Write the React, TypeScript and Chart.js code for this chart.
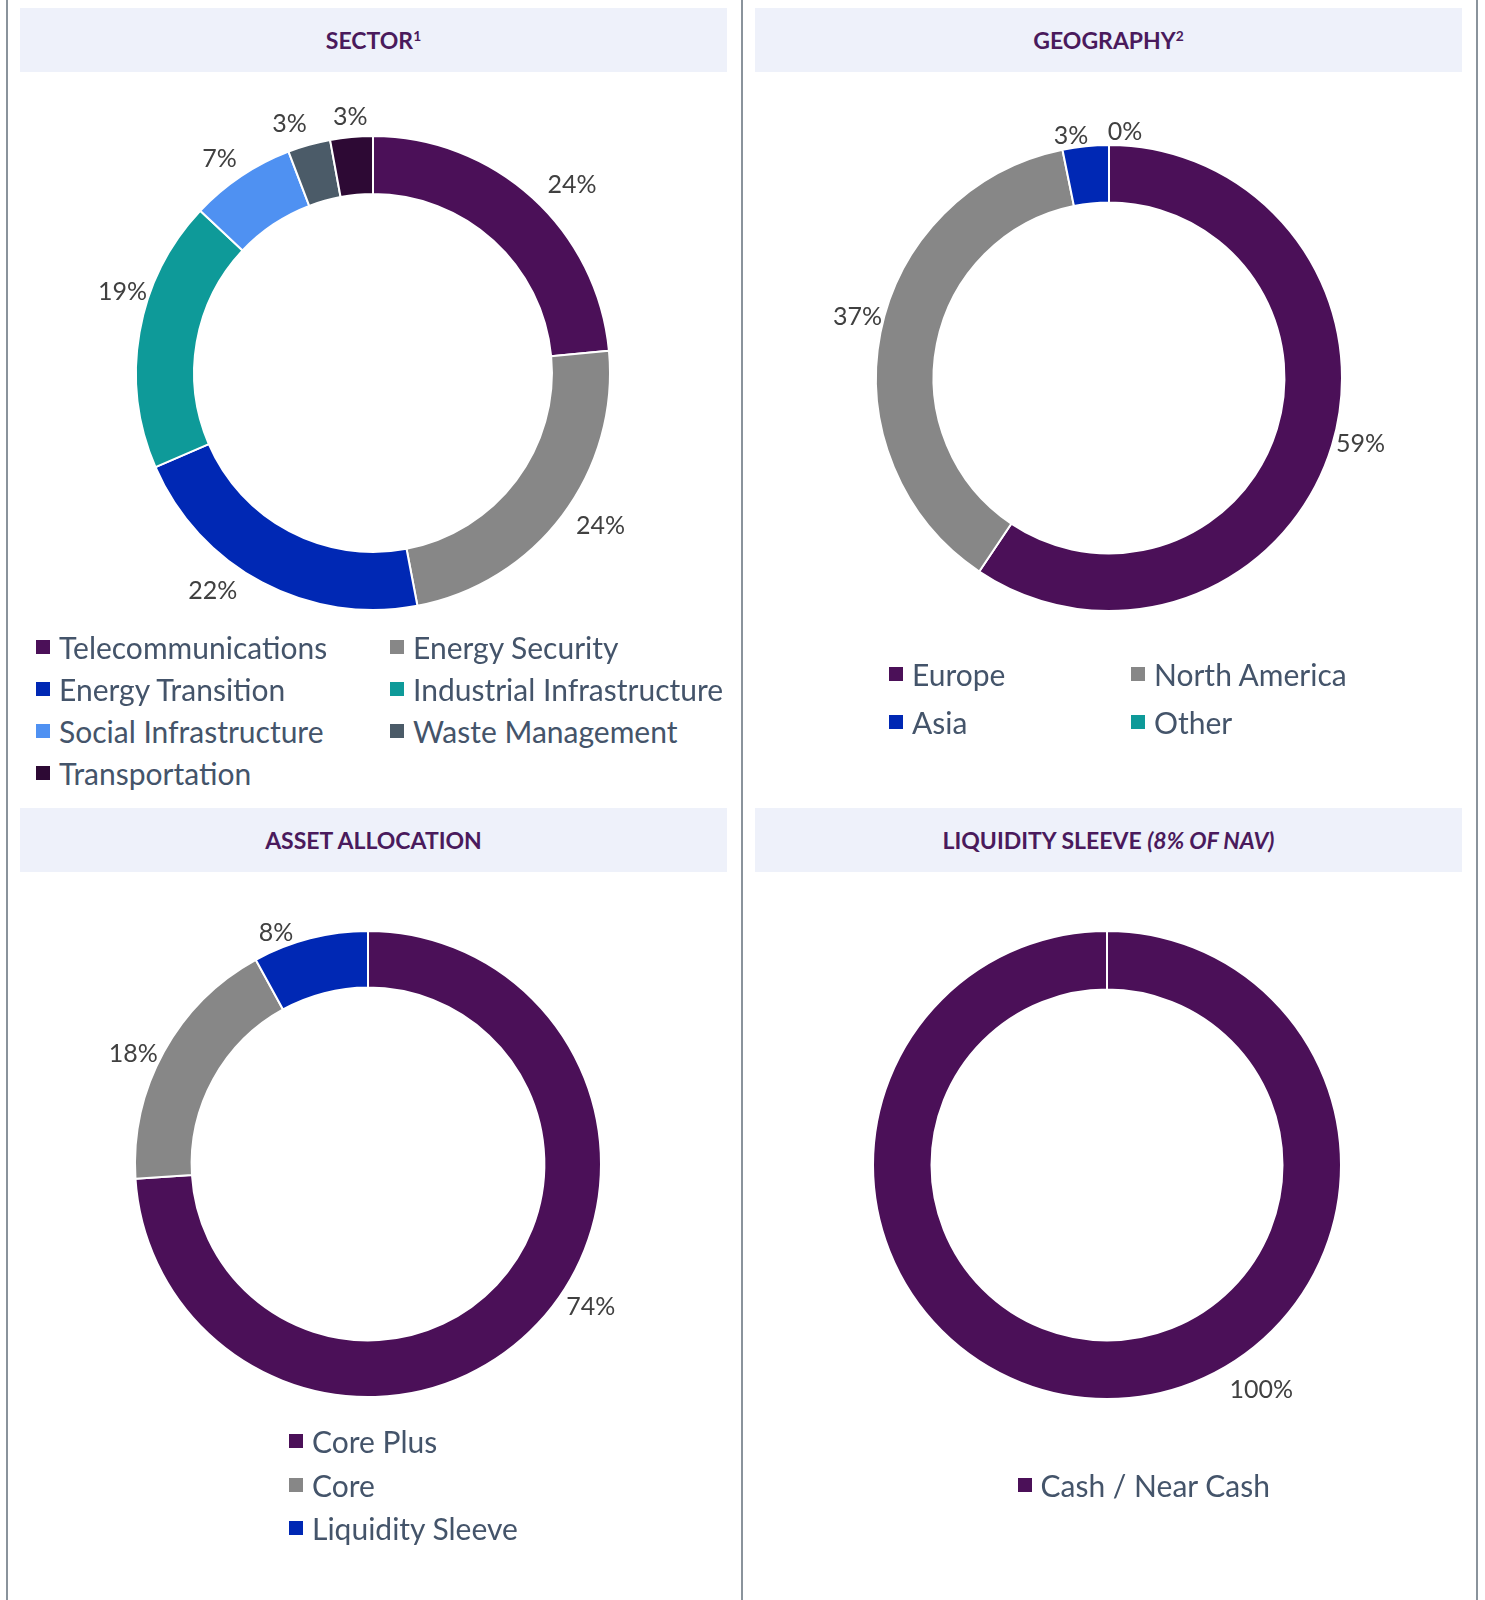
import { useEffect, useRef } from "react";
import { Chart, registerables } from "chart.js";

Chart.register(...registerables);

// ---------- DATA ----------
const sectorLabels = [
  "Telecommunications",
  "Energy Security",
  "Energy Transition",
  "Industrial Infrastructure",
  "Social Infrastructure",
  "Waste Management",
  "Transportation",
];
const sectorValues = [23.5, 23.5, 21.5, 18.5, 7.2, 2.9, 2.9];
const sectorColors = ["#4b1058", "#878787", "#0028b4", "#0e9a99", "#4f91f2", "#4b5b68", "#2d0934"];

const geoLabels = ["Europe", "North America", "Asia", "Other"];
const geoValues = [59.4, 37.4, 3.2, 0];
const geoColors = ["#4b1058", "#878787", "#0028b4", "#0e9a99"];

const assetLabels = ["Core Plus", "Core", "Liquidity Sleeve"];
const assetValues = [74, 18, 8];
const assetColors = ["#4b1058", "#878787", "#0028b4"];

const liqLabels = ["Cash / Near Cash"];
const liqValues = [100];
const liqColors = ["#4b1058"];

// ---------- STYLE ----------
const FONT = "Lato, 'Open Sans', sans-serif";
const TITLE_COLOR = "#4a1a5c";
const LEGEND_COLOR = "#44546a";
const LABEL_COLOR = "#404040";
const HEADER_BG = "#eef1fa";
const RULE_COLOR = "#8a939c";

// Percentage labels drawn outside the ring, at each slice's mid angle
// (with a small manual angular / radial nudge, like hand-placed data labels).
const outsideLabels = {
  id: "outsideLabels",
  afterDatasetsDraw(chart: any, _args: any, opts: any) {
    const { ctx } = chart;
    const meta = chart.getDatasetMeta(0);
    const ds = chart.data.datasets[0];
    ctx.save();
    ctx.font = opts.font;
    ctx.fillStyle = opts.color;
    ctx.textAlign = "center";
    ctx.textBaseline = "middle";
    meta.data.forEach((arc: any, i: number) => {
      const p = arc.getProps(["x", "y", "startAngle", "endAngle", "outerRadius"], true);
      const nudge = (opts.angleNudge?.[i] ?? 0) * (Math.PI / 180);
      const a = (p.startAngle + p.endAngle) / 2 + nudge;
      const r = p.outerRadius + (opts.dist?.[i] ?? 25);
      const text = Math.round(ds.data[i]) + "%";
      ctx.fillText(text, p.x + Math.cos(a) * r, p.y + Math.sin(a) * r + 1);
    });
    ctx.restore();
  },
};

type DonutProps = {
  labels: string[];
  values: number[];
  colors: string[];
  cx: number;
  cy: number;
  radius: number;
  cutout: string;
  angleNudge: number[];
  dist: number[];
};

function Donut({ labels, values, colors, cx, cy, radius, cutout, angleNudge, dist }: DonutProps) {
  const ref = useRef<HTMLCanvasElement | null>(null);
  const half = radius + 90;
  useEffect(() => {
    if (!ref.current) return;
    const chart = new Chart(ref.current, {
      type: "doughnut",
      data: {
        labels,
        datasets: [
          {
            data: values,
            backgroundColor: colors,
            borderColor: "#ffffff",
            borderWidth: 2,
          },
        ],
      },
      options: {
        animation: false,
        responsive: false,
        radius,
        cutout,
        layout: { padding: 0 },
        plugins: {
          legend: { display: false },
          tooltip: { enabled: false },
          outsideLabels: {
            font: `25px ${FONT}`,
            color: LABEL_COLOR,
            angleNudge,
            dist,
          },
        } as any,
      },
      plugins: [outsideLabels as any],
    });
    return () => chart.destroy();
  }, []);
  return (
    <canvas
      ref={ref}
      width={half * 2}
      height={half * 2}
      style={{ position: "absolute", left: cx - half, top: cy - half, width: half * 2, height: half * 2 }}
    />
  );
}

function Header({ left, top, children }: { left: number; top: number; children: any }) {
  return (
    <div
      style={{
        position: "absolute",
        left,
        top,
        width: 707,
        height: 64,
        background: HEADER_BG,
        display: "flex",
        alignItems: "center",
        justifyContent: "center",
        fontFamily: FONT,
        fontWeight: 700,
        fontSize: 23,
        color: TITLE_COLOR,
      }}
    >
      <span>{children}</span>
    </div>
  );
}

function Legend({
  labels,
  colors,
  left,
  top,
  colWidth,
  cols,
  rowHeight,
}: {
  labels: string[];
  colors: string[];
  left: number;
  top: number;
  colWidth: number;
  cols: number;
  rowHeight: number;
}) {
  return (
    <>
      {labels.map((l, i) => {
        const c = i % cols;
        const r = Math.floor(i / cols);
        return (
          <div
            key={l}
            style={{
              position: "absolute",
              left: left + c * colWidth,
              top: top + r * rowHeight - rowHeight / 2,
              height: rowHeight,
              display: "flex",
              alignItems: "center",
              fontFamily: FONT,
              fontSize: 30,
              color: LEGEND_COLOR,
              whiteSpace: "nowrap",
            }}
          >
            <span
              style={{ display: "inline-block", width: 14, height: 14, background: colors[i], marginRight: 9 }}
            />
            <span>{l}</span>
          </div>
        );
      })}
    </>
  );
}

export default function App() {
  const sup = { fontSize: "0.6em", verticalAlign: "0.6em" } as const;
  return (
    <div
      style={{
        position: "absolute",
        left: 0,
        top: 0,
        width: 1485,
        height: 1600,
        background: "#ffffff",
        overflow: "hidden",
      }}
    >
      {/* vertical rules */}
      <div style={{ position: "absolute", left: 6, top: 0, width: 2, height: 1600, background: RULE_COLOR }} />
      <div style={{ position: "absolute", left: 741, top: 0, width: 2, height: 1600, background: RULE_COLOR }} />
      <div style={{ position: "absolute", left: 1476, top: 0, width: 2, height: 1600, background: RULE_COLOR }} />

      <Header left={20} top={8}>
        SECTOR<span style={sup}>1</span>
      </Header>
      <Header left={755} top={8}>
        GEOGRAPHY<span style={sup}>2</span>
      </Header>
      <Header left={20} top={808}>
        ASSET ALLOCATION
      </Header>
      <Header left={755} top={808}>
        LIQUIDITY SLEEVE <i>(8% OF NAV)</i>
      </Header>

      <Donut
        labels={sectorLabels}
        values={sectorValues}
        colors={sectorColors}
        cx={372.5}
        cy={372.5}
        radius={237}
        cutout="75.5%"
        angleNudge={[4.2, -3.2, 8.6, 8.2, -1.6, -2.8, 0.2]}
        dist={[37.5, 36.5, 32.5, 26.5, 27.5, 26.5, 21.5]}
      />
      <Donut
        labels={geoLabels}
        values={geoValues}
        colors={geoColors}
        cx={1109}
        cy={378}
        radius={233}
        cutout="75.3%"
        angleNudge={[-2.5, 2.6, -3.1, 3.7]}
        dist={[26.7, 26, 13.4, 15]}
      />
      <Donut
        labels={assetLabels}
        values={assetValues}
        colors={assetColors}
        cx={367.5}
        cy={1164}
        radius={233}
        cutout="75.7%"
        angleNudge={[-10.6, -3.5, -7.2]}
        dist={[31.3, 26.6, 16.7]}
      />
      <Donut
        labels={liqLabels}
        values={liqValues}
        colors={liqColors}
        cx={1107}
        cy={1164.5}
        radius={234}
        cutout="75%"
        angleNudge={[-34.5]}
        dist={[38.3]}
      />

      <Legend labels={sectorLabels} colors={sectorColors} left={36} top={647} colWidth={354} cols={2} rowHeight={42} />
      <Legend labels={geoLabels} colors={geoColors} left={889} top={673.5} colWidth={242} cols={2} rowHeight={48} />
      <Legend labels={assetLabels} colors={assetColors} left={289} top={1441} colWidth={300} cols={1} rowHeight={43.5} />
      <Legend labels={liqLabels} colors={liqColors} left={1017.5} top={1485} colWidth={300} cols={1} rowHeight={43.5} />
    </div>
  );
}
